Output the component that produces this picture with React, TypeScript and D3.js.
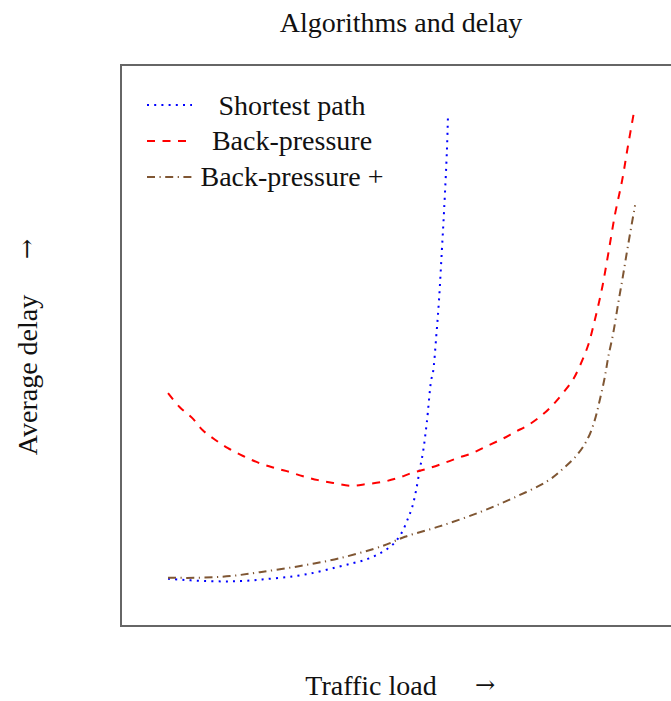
import React from "react";
import * as d3 from "d3";

// Data (x: traffic load, y: average delay), arbitrary units 0..100
const shortestX = [8.4, 15.4, 21.3, 26.3, 31.1, 35.0, 38.6, 41.4, 43.9, 46.3, 48.4, 50.0, 51.3, 52.0, 52.7, 53.4, 53.9, 54.6, 55.4, 55.7, 56.3, 56.8, 57.3, 57.7, 58.2, 58.4];
const shortestY = [8.4, 8.0, 8.0, 8.4, 8.9, 9.6, 10.5, 11.2, 11.9, 13.0, 14.4, 16.4, 19.3, 21.2, 24.2, 28.2, 30.8, 36.2, 43.9, 45.1, 51.7, 58.3, 67.0, 74.2, 84.8, 91.4];

const bpX = [8.4, 10.5, 12.7, 14.6, 16.8, 19.1, 21.8, 24.3, 27.0, 29.6, 32.5, 35.2, 37.9, 40.9, 43.9, 46.8, 49.5, 52.0, 54.6, 57.3, 60.0, 62.7, 65.4, 68.0, 70.4, 72.7, 75.2, 77.1, 78.9, 80.7, 82.0, 83.4, 84.6, 85.9, 87.0, 88.2, 89.5, 90.5, 91.6];
const bpY = [41.5, 39.0, 37.1, 34.9, 33.2, 31.7, 30.3, 29.2, 28.3, 27.6, 26.7, 26.0, 25.5, 25.0, 25.3, 25.7, 26.4, 27.3, 28.0, 28.9, 29.9, 30.8, 32.1, 33.3, 34.6, 35.8, 37.6, 39.4, 41.5, 43.9, 46.5, 50.0, 54.5, 60.2, 66.3, 73.3, 79.5, 85.4, 91.6];

const bppX = [8.4, 14.1, 19.5, 24.8, 32.0, 39.1, 46.8, 50.7, 57.0, 64.1, 70.0, 76.1, 78.9, 81.6, 83.4, 84.6, 85.5, 86.4, 87.0, 87.9, 88.8, 89.6, 90.5, 91.8];
const bppY = [8.6, 8.6, 8.9, 9.6, 10.7, 12.1, 14.3, 15.9, 17.8, 20.3, 22.8, 25.8, 28.0, 30.7, 33.5, 36.7, 40.3, 44.4, 47.9, 52.2, 57.6, 62.2, 67.6, 75.0];

const seriesNames = ["Shortest path", "Back-pressure", "Back-pressure +"];
const seriesColors = ["#0000ff", "#ff0000", "#7f5633"];
const seriesDash = ["2 5.2", "8 7.5", "8 4.5 1.2 4.5"];

const title = "Algorithms and delay";
const xLabel = "Traffic load";
const yLabel = "Average delay";
const arrow = "→";

export default function App() {
  const W = 671, H = 701;
  const left = 121, top = 65, right = 681, bottom = 626;
  const x = d3.scaleLinear().domain([0, 100]).range([left, right]);
  const y = d3.scaleLinear().domain([0, 100]).range([bottom, top]);
  const line = d3
    .line<[number, number]>()
    .x((d) => x(d[0]))
    .y((d) => y(d[1]))
    .curve(d3.curveMonotoneY);

  const lineX = d3
    .line<[number, number]>()
    .x((d) => x(d[0]))
    .y((d) => y(d[1]))
    .curve(d3.curveCatmullRom.alpha(0.5));

  const series = [
    shortestX.map((v, i) => [v, shortestY[i]] as [number, number]),
    bpX.map((v, i) => [v, bpY[i]] as [number, number]),
    bppX.map((v, i) => [v, bppY[i]] as [number, number]),
  ];

  const font = "'Liberation Serif', 'DejaVu Serif', serif";
  const arrowFont = "'DejaVu Serif', serif";
  const legendY = [105, 141, 177];
  const legendBase = [114.5, 150, 185.5];
  const legendLineEnd = [192, 188, 192];

  return (
    <svg
      width={W}
      height={H}
      style={{ position: "absolute", left: 0, top: 0, background: "#fff" }}
      fontFamily={font}
    >
      <rect x={0} y={0} width={W} height={H} fill="#fff" />
      <text x={401} y={32} fontSize={28} textAnchor="middle" fill="#111">
        {title}
      </text>
      <rect
        x={left}
        y={top}
        width={right - left}
        height={bottom - top}
        fill="none"
        stroke="#666"
        strokeWidth={2}
      />
      {series.map((s, i) => (
        <path
          key={i}
          d={(i === 0 ? lineX(s) : lineX(s)) || ""}
          fill="none"
          stroke={seriesColors[i]}
          strokeWidth={2}
          strokeDasharray={seriesDash[i]}
        />
      ))}
      {seriesNames.map((n, i) => (
        <g key={n}>
          <line
            x1={147}
            x2={legendLineEnd[i]}
            y1={legendY[i]}
            y2={legendY[i]}
            stroke={seriesColors[i]}
            strokeWidth={2}
            strokeDasharray={seriesDash[i]}
          />
          <text x={292} y={legendBase[i]} fontSize={28} textAnchor="middle" fill="#111">
            {n}
          </text>
        </g>
      ))}
      <text x={371} y={695} fontSize={28} textAnchor="middle" fill="#111">
        {xLabel}
      </text>
      <text x={485} y={693} fontSize={24} fontFamily={arrowFont} textAnchor="middle" fill="#111">
        {arrow}
      </text>
      <text
        transform={`translate(37,375) rotate(-90)`}
        fontSize={28}
        textAnchor="middle"
        fill="#111"
      >
        {yLabel}
      </text>
      <text
        transform={`translate(35,249) rotate(-90)`}
        fontSize={24}
        fontFamily={arrowFont}
        textAnchor="middle"
        fill="#111"
      >
        {arrow}
      </text>
    </svg>
  );
}
